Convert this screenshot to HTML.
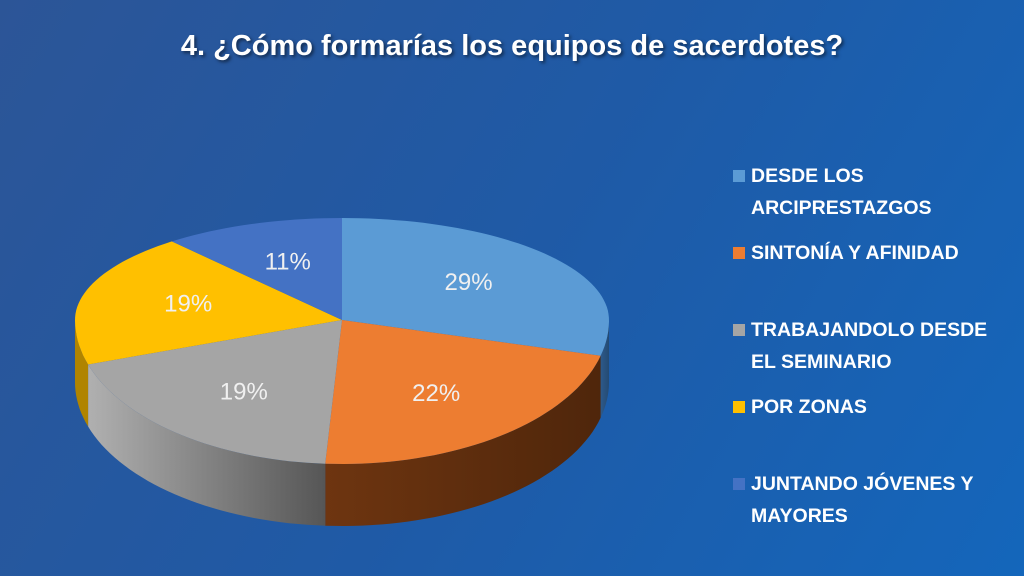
<!DOCTYPE html>
<html><head><meta charset="utf-8"><style>
body{margin:0;width:1024px;height:576px;overflow:hidden;background:linear-gradient(120deg,#2c5597 0%,#1f5aa6 50%,#1466bb 100%);font-family:"Liberation Sans",sans-serif}
.t{position:absolute;left:0;width:1024px;top:30px;text-align:center;color:#fff;font-weight:bold;font-size:29px;text-shadow:2px 2px 3px rgba(0,0,0,.5)}
.lg{position:absolute;left:733px;color:#fff;font-weight:bold;font-size:19.5px;line-height:32px}
.lg span.sw{position:absolute;left:0;top:10px;width:12px;height:12px}
.lg div{margin-left:18px}
</style></head><body>
<div class="t">4. ¿Cómo formarías los equipos de sacerdotes?</div>
<svg width="1024" height="576" style="position:absolute;left:0;top:0">
<defs>
<linearGradient id="gs" x1="0" x2="1"><stop offset="0" stop-color="#b0b0b0"/><stop offset="1" stop-color="#565656"/></linearGradient>
<linearGradient id="os" x1="0" x2="1"><stop offset="0" stop-color="#6e3510"/><stop offset="1" stop-color="#4f260b"/></linearGradient>
<linearGradient id="bs" x1="0" x2="1"><stop offset="0" stop-color="#2d5a8a"/><stop offset="1" stop-color="#244a73"/></linearGradient>
<linearGradient id="ys" x1="0" x2="1"><stop offset="0" stop-color="#b08400"/><stop offset="1" stop-color="#b08400"/></linearGradient>
</defs>
<g id="pie"></g>
</svg>
<div class="lg" style="top:160px"><span class="sw" style="background:#5b9bd5"></span><div>DESDE LOS<br>ARCIPRESTAZGOS</div></div>
<div class="lg" style="top:237px"><span class="sw" style="background:#ed7d31"></span><div>SINTONÍA Y AFINIDAD</div></div>
<div class="lg" style="top:314px"><span class="sw" style="background:#a5a5a5"></span><div>TRABAJANDOLO DESDE<br>EL SEMINARIO</div></div>
<div class="lg" style="top:391px"><span class="sw" style="background:#ffc000"></span><div>POR ZONAS</div></div>
<div class="lg" style="top:468px"><span class="sw" style="background:#4472c4"></span><div>JUNTANDO JÓVENES Y<br>MAYORES</div></div>
<script>
const categories=["DESDE LOS ARCIPRESTAZGOS","SINTONÍA Y AFINIDAD","TRABAJANDOLO DESDE EL SEMINARIO","POR ZONAS","JUNTANDO JÓVENES Y MAYORES"];
const values=[29,22,19,19,11];
const labels=["29%","22%","19%","19%","11%"];
const tops=["#5b9bd5","#ed7d31","#a5a5a5","#ffc000","#4472c4"];
const sides=["url(#bs)","url(#os)","url(#gs)","url(#ys)","url(#bs)"];
const cx=342,cy=320,rx=267,ryt=102,ryb=144,depth=62;
const NS="http://www.w3.org/2000/svg";
function pt(a,d){const r=a*Math.PI/180;const c=Math.cos(r);const ry=c>0?ryt:ryb;return [cx+rx*Math.sin(r),cy-ry*c+(d||0)];}
function arc(a,b,d){let p=[];const n=Math.max(2,Math.ceil((b-a)/2));for(let i=0;i<=n;i++)p.push(pt(a+(b-a)*i/n,d));return p;}
const g=document.getElementById('pie');
const total=values.reduce((s,v)=>s+v,0);
let acc=0;const angs=values.map(v=>{const a=acc;acc+=v;return [a/total*360,acc/total*360];});
angs.forEach(([a,b],i)=>{const s=Math.max(a,90),e=Math.min(b,270);if(e<=s)return;
 const top=arc(s,e,0),bot=arc(s,e,depth).reverse();
 const p=document.createElementNS(NS,'path');
 p.setAttribute('d','M'+top.concat(bot).map(q=>q[0].toFixed(1)+','+q[1].toFixed(1)).join('L')+'Z');
 p.setAttribute('fill',sides[i]);
 
 
 g.appendChild(p);});
angs.forEach(([a,b],i)=>{const pts=[[cx,cy]].concat(arc(a,b,0));
 const p=document.createElementNS(NS,'path');
 p.setAttribute('d','M'+pts.map(q=>q[0].toFixed(1)+','+q[1].toFixed(1)).join('L')+'Z');
 p.setAttribute('fill',tops[i]);
 
 
 g.appendChild(p);});
angs.forEach(([a,b],i)=>{const m=(a+b)/2;const r=m*Math.PI/180;const c=Math.cos(r);const ry=c>0?ryt:ryb;
 const x=cx+rx*0.6*Math.sin(r),y=cy-ry*0.62*c+9;
 const t=document.createElementNS(NS,'text');
 t.setAttribute('x',x);t.setAttribute('y',y);t.setAttribute('text-anchor','middle');
 t.setAttribute('fill','#f0f0f0');t.setAttribute('font-size','24');t.setAttribute('font-family','Liberation Sans, sans-serif');
 t.textContent=labels[i];
 
 
 g.appendChild(t);});
</script>
</body></html>
